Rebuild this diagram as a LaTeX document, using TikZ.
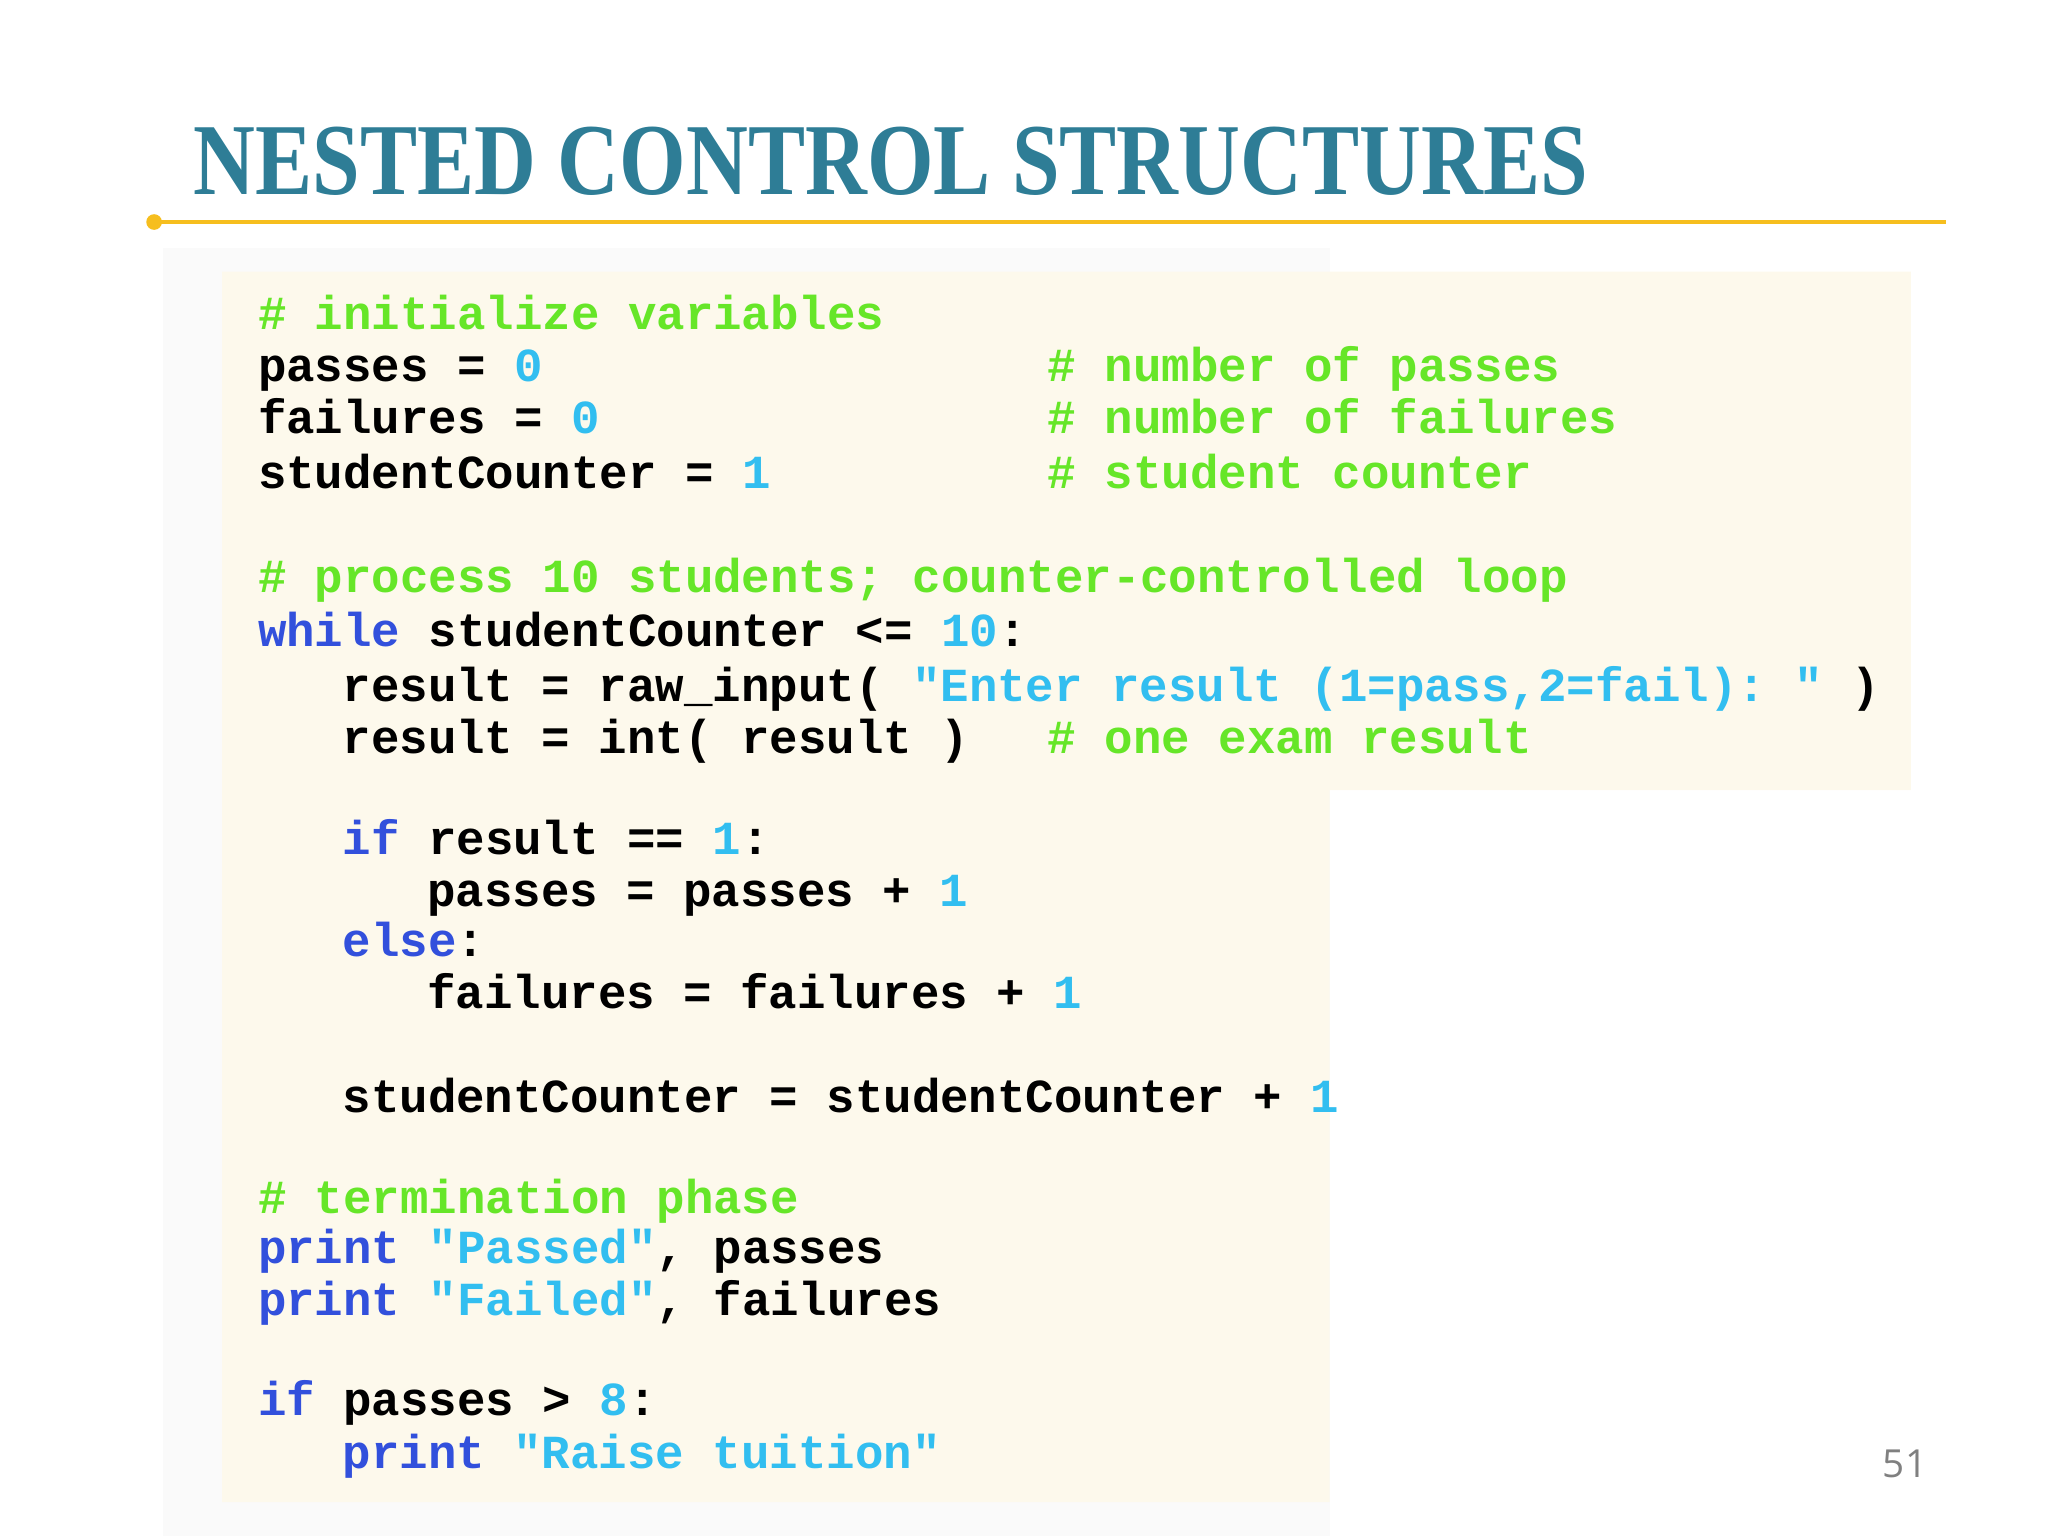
\documentclass[tikz,border=0pt]{standalone}
\usepackage{fontspec}
\setmonofont{Liberation Mono}
\newfontfamily\titlefont{Liberation Serif}
\newfontfamily\numfont{Open Sans}
\usetikzlibrary{positioning}
\definecolor{TitleTeal}{RGB}{46,125,150}
\definecolor{RuleGold}{RGB}{246,190,30}
\definecolor{CodeCream}{RGB}{253,249,236}
\definecolor{PanelGray}{RGB}{250,250,250}
\definecolor{CmtGreen}{RGB}{102,230,40}
\definecolor{KwBlue}{RGB}{50,80,220}
\definecolor{NumCyan}{RGB}{50,190,240}
\newcommand\cmt[1]{\textcolor{CmtGreen}{#1}}
\newcommand\kw[1]{\textcolor{KwBlue}{#1}}
\newcommand\num[1]{\textcolor{NumCyan}{#1}}
\tikzset{
  code/.style = {inner sep=0pt, anchor=base west,
                 font=\fontsize{13.5pt}{16pt}\ttfamily\bfseries},
}
% one code segment: name, column, baseline, text
\newcommand\seg[4]{\node[code] (#1) at ({197+21.6*#2},#3+2) {#4};}

\begin{document}
\begin{tikzpicture}[x=0.01306cm, y=-0.01306cm]
\useasboundingbox (0,0) rectangle (1568,1176);

% title and rule
\node[anchor=base west, inner sep=0pt, text=TitleTeal, xscale=0.84,
      font=\fontsize{29pt}{34pt}\titlefont\bfseries] (title) at (148,149) {NESTED CONTROL STRUCTURES};
\coordinate (ruleA) at (118,170);
\coordinate (ruleB) at (1490,170);
\draw[RuleGold, line width=1.2pt] (ruleA) -- (ruleB);
\fill[RuleGold] (ruleA) circle (6);

% panels
\fill[PanelGray] (125,190) rectangle (1018,1176);
\fill[CodeCream] (170,208) -- (1463,208) -- (1463,605) -- (1018,605)
  -- (1018,1150) -- (170,1150) -- cycle;

% code
\seg{l1}{0}{250}{\cmt{\# initialize variables}}
\seg{l2}{0}{290}{passes = \num{0}}
\seg{l2c}{28}{290}{\cmt{\# number of passes}}
\seg{l3}{0}{330}{failures = \num{0}}
\seg{l3c}{28}{330}{\cmt{\# number of failures}}
\seg{l4}{0}{372}{studentCounter = \num{1}}
\seg{l4c}{28}{372}{\cmt{\# student counter}}
\seg{l5}{0}{452}{\cmt{\# process 10 students; counter-controlled loop}}
\seg{l6}{0}{493}{\kw{while} studentCounter <= \num{10}:}
\seg{l7}{3}{535}{result = raw\_input( \num{"Enter result (1=pass,2=fail): "} )}
\seg{l8}{3}{575}{result = int( result )}
\seg{l8c}{28}{575}{\cmt{\# one exam result}}
\seg{l9}{3}{652}{\kw{if} result == \num{1}:}
\seg{l10}{6}{692}{passes = passes + \num{1}}
\seg{l11}{3}{730}{\kw{else}:}
\seg{l12}{6}{770}{failures = failures + \num{1}}
\seg{l13}{3}{850}{studentCounter = studentCounter + \num{1}}
\seg{l14}{0}{927}{\cmt{\# termination phase}}
\seg{l15}{0}{965}{\kw{print} \num{"Passed"}, passes}
\seg{l16}{0}{1005}{\kw{print} \num{"Failed"}, failures}
\seg{l17}{0}{1082}{\kw{if} passes > \num{8}:}
\seg{l18}{3}{1122}{\kw{print} \num{"Raise tuition"}}

% page number
\node[anchor=base east, inner sep=0pt, text=gray, font=\fontsize{11pt}{13pt}\numfont] (page) at (1476,1131) {51};
\end{tikzpicture}
\end{document}
